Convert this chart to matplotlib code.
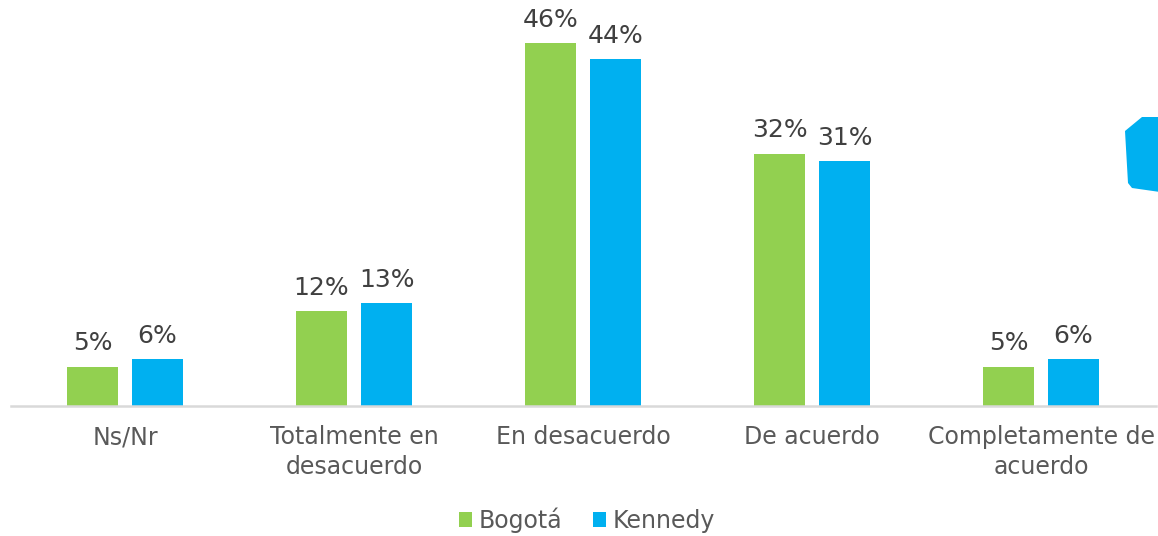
import matplotlib
matplotlib.use("Agg")
import matplotlib.pyplot as plt
from matplotlib.patches import Polygon
import numpy as np

categories = ["Ns/Nr", "Totalmente en\ndesacuerdo", "En desacuerdo", "De acuerdo",
              "Completamente de\nacuerdo"]
bogota = [5, 12, 46, 32, 5]
kennedy = [6, 13, 44, 31, 6]
series_names = ["Bogotá", "Kennedy"]

GREEN = "#92D050"
BLUE = "#00B0F0"
W, H = 1158, 536

plt.rcParams["font.family"] = ["DejaVu Sans"]
fig = plt.figure(figsize=(W / 100, H / 100), dpi=100)
# axes placed in pixel terms: baseline at y=406, 229 px per category
ax = fig.add_axes([10.5 / W, 130 / H, 1145 / W, 394.5 / H])

x = np.arange(len(categories))
bw = 51 / 229
gap = 14 / 229
off = (bw + gap) / 2
b1 = ax.bar(x - off, bogota, bw, color=GREEN, label=series_names[0])
b2 = ax.bar(x + off, kennedy, bw, color=BLUE, label=series_names[1])

for bars, vals in ((b1, bogota), (b2, kennedy)):
    for r, v in zip(bars, vals):
        ax.annotate(f"{v:.0f}%", (r.get_x() + r.get_width() / 2, v),
                    xytext=(0, 8), textcoords="offset points",
                    ha="center", va="bottom", fontsize=18, color="#404040")

ax.set_xlim(-0.5, len(categories) - 0.5)
ax.set_ylim(0, 50)
ax.set_xticks(x)
ax.set_xticklabels(categories, fontsize=17, color="#595959", linespacing=1.3)
ax.tick_params(axis="x", length=0, pad=14)
ax.set_yticks([])
for s in ("top", "right", "left"):
    ax.spines[s].set_visible(False)
ax.spines["bottom"].set_color("#D9D9D9")
ax.spines["bottom"].set_linewidth(1.8)

leg = fig.legend(loc="center", bbox_to_anchor=(587 / W, 1 - 520 / H), ncol=2,
                 frameon=False, fontsize=17, handlelength=0.55, handleheight=0.55,
                 handletextpad=0.3, columnspacing=1.3)
for t in leg.get_texts():
    t.set_color("#595959")

# decorative shape at the right edge
pts = np.array([(1125, 131), (1142, 117), (1160, 117), (1160, 192),
                (1132, 188), (1128, 183)], dtype=float)
pts[:, 0] = pts[:, 0] / W
pts[:, 1] = 1 - pts[:, 1] / H
fig.add_artist(Polygon(pts, closed=True, transform=fig.transFigure,
                       facecolor=BLUE, edgecolor="none"))

fig.savefig("out.png", dpi=100)
